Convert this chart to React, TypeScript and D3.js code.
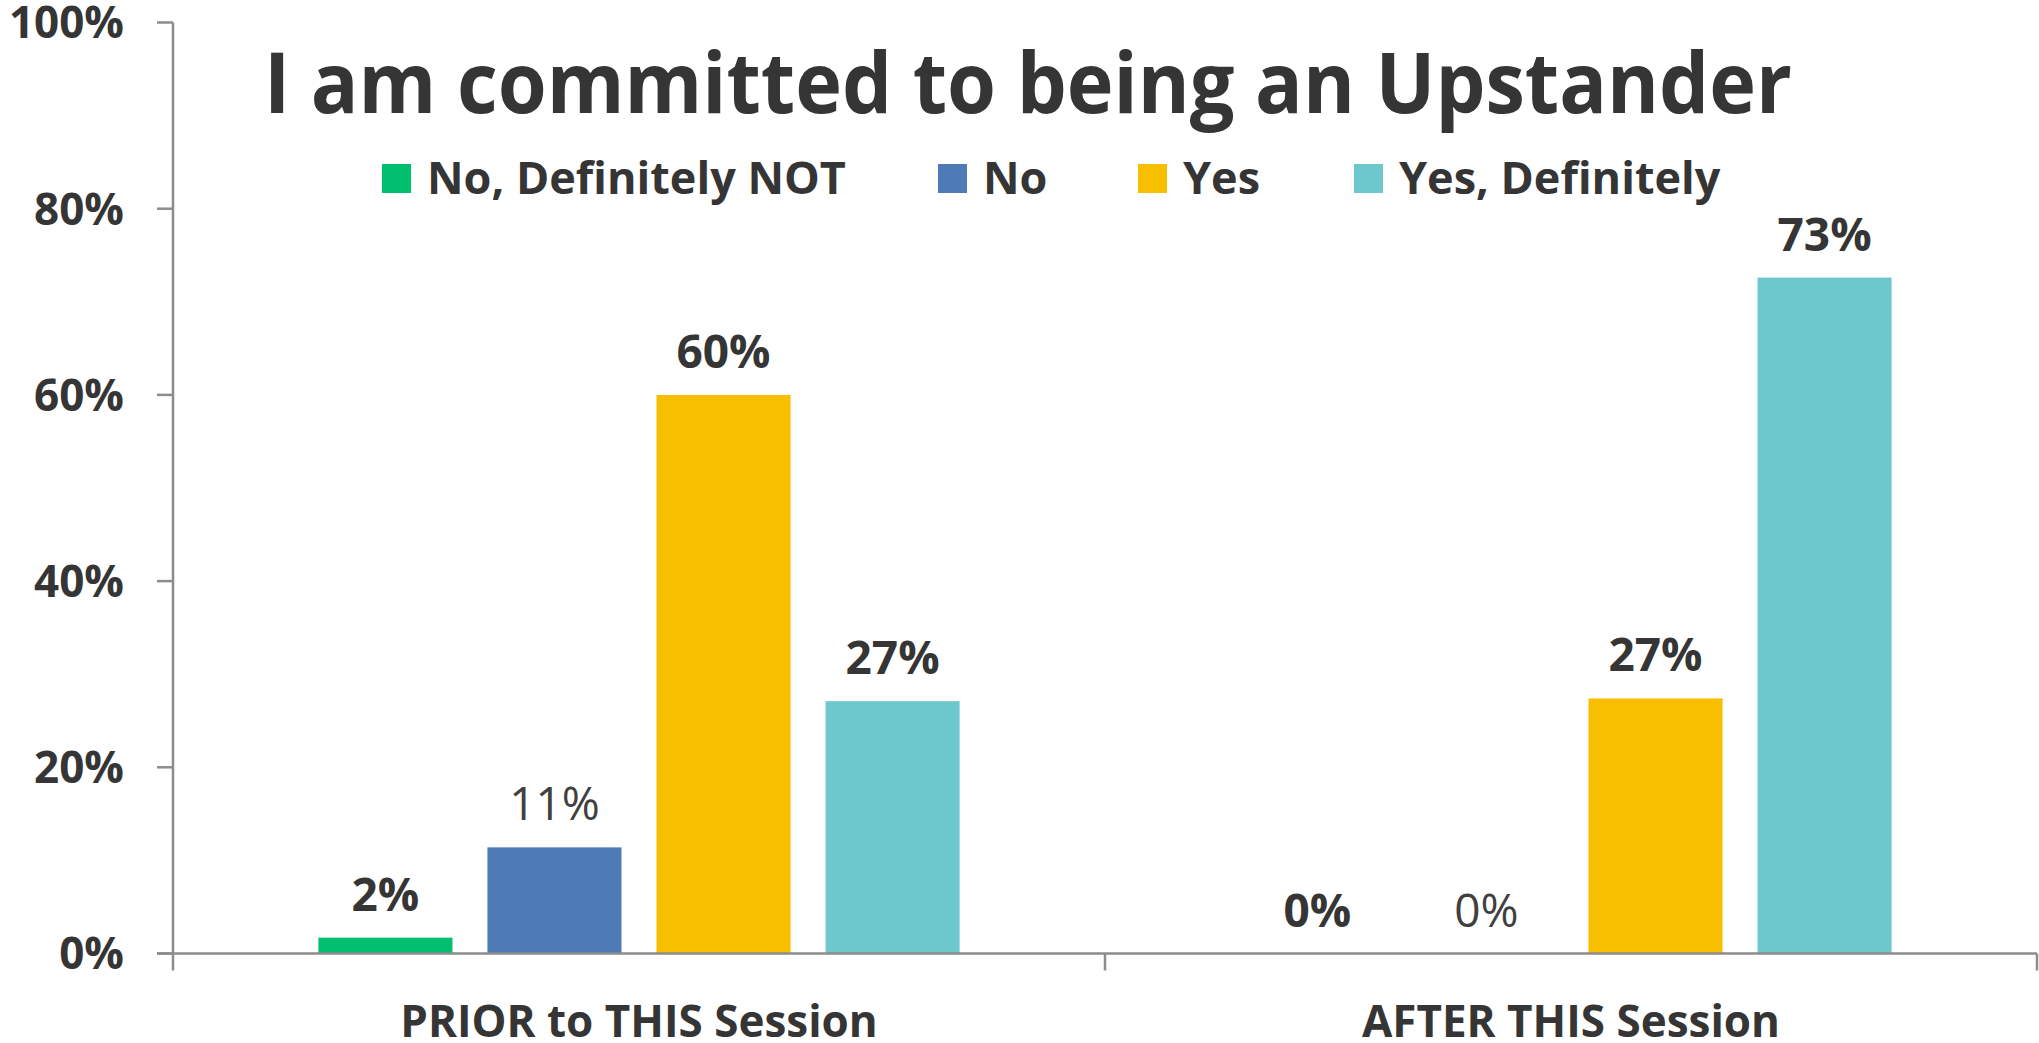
import React from "react";
import * as d3 from "d3";

const title = "I am committed to being an Upstander";
const categories = ["PRIOR to THIS Session", "AFTER THIS Session"];
const seriesNames = ["No, Definitely NOT", "No", "Yes", "Yes, Definitely"];
const seriesColors = ["#00BF6F", "#4E7AB5", "#F8BE00", "#6CC8CC"];
const seriesBold = [true, false, true, true];
const priorValues = [1.7, 11.4, 60.0, 27.1];
const afterValues = [0, 0, 27.4, 72.6];
const yTicks = [0, 20, 40, 60, 80, 100];

const W = 2039;
const H = 1043;
const plotLeft = 173;
const plotRight = 2037;
const plotTop = 22.5;
const plotBottom = 953.5;
const legendX = [382, 938, 1138, 1354];
const textColor = "#353535";
const axisColor = "#8C8C8C";
const font = "'Open Sans', 'DejaVu Sans', sans-serif";

export default function App() {
  const valuesByCat = [priorValues, afterValues];
  const x0 = d3.scaleBand<string>().domain(categories).range([plotLeft, plotRight]).padding(0);
  const groupW = x0.bandwidth() * 0.688;
  const x1 = d3
    .scaleBand<string>()
    .domain(seriesNames)
    .range([-groupW / 2, groupW / 2])
    .paddingInner(0.207)
    .paddingOuter(0);
  const y = d3.scaleLinear().domain([0, 100]).range([plotBottom, plotTop]);
  const fmt = (v: number) => `${Math.round(v)}%`;

  const catEdges = [plotLeft, ...categories.map((c) => (x0(c) as number) + x0.bandwidth())];

  return (
    <svg
      width={W}
      height={H}
      style={{ position: "absolute", left: 0, top: 0, background: "#fff" }}
      fontFamily={font}
    >
      <rect x={0} y={0} width={W} height={H} fill="#fff" />
      {/* Title */}
      <text
        x={264}
        y={113}
        fontSize={84}
        fontWeight={700}
        fill={textColor}
        textLength={1528}
        lengthAdjust="spacingAndGlyphs"
      >
        {title}
      </text>
      {/* Legend */}
      {seriesNames.map((s, i) => (
        <g key={s} transform={`translate(${legendX[i]},164)`}>
          <rect x={0} y={0} width={29} height={29} fill={seriesColors[i]} />
          <text x={45} y={30} fontSize={45} fontWeight={700} fill={textColor}>
            {s}
          </text>
        </g>
      ))}
      {/* Y axis */}
      <line x1={plotLeft} x2={plotLeft} y1={plotTop} y2={plotBottom + 17} stroke={axisColor} strokeWidth={2.5} />
      {yTicks.map((t) => (
        <g key={t}>
          <line x1={plotLeft - 16} x2={plotLeft} y1={y(t)} y2={y(t)} stroke={axisColor} strokeWidth={2.5} />
          <text
            x={124}
            y={y(t)}
            dy="0.36em"
            textAnchor="end"
            fontSize={44}
            fontWeight={700}
            fill={textColor}
          >
            {`${t}%`}
          </text>
        </g>
      ))}
      {/* Bars */}
      {categories.map((c, ci) => {
        const cx = (x0(c) as number) + x0.bandwidth() / 2;
        return (
          <g key={c}>
            {seriesNames.map((s, si) => {
              const v = valuesByCat[ci][si];
              const bx = cx + (x1(s) as number);
              return (
                <g key={s}>
                  {v > 0 && (
                    <rect
                      x={bx}
                      y={y(v)}
                      width={x1.bandwidth()}
                      height={y(0) - y(v)}
                      fill={seriesColors[si]}
                    />
                  )}
                  <text
                    x={bx + x1.bandwidth() / 2}
                    y={y(v) - 27}
                    textAnchor="middle"
                    fontSize={46}
                    fontWeight={seriesBold[si] ? 700 : 400}
                    fill={seriesBold[si] ? textColor : "#404040"}
                  >
                    {fmt(v)}
                  </text>
                </g>
              );
            })}
            <text
              x={cx}
              y={1037}
              textAnchor="middle"
              fontSize={44}
              fontWeight={700}
              fill={textColor}
            >
              {c}
            </text>
          </g>
        );
      })}
      {/* X axis */}
      <line x1={plotLeft - 16} x2={plotRight} y1={plotBottom} y2={plotBottom} stroke={axisColor} strokeWidth={2.5} />
      {catEdges.slice(1).map((e, i) => (
        <line key={i} x1={e} x2={e} y1={plotBottom} y2={plotBottom + 17} stroke={axisColor} strokeWidth={2.5} />
      ))}
    </svg>
  );
}
